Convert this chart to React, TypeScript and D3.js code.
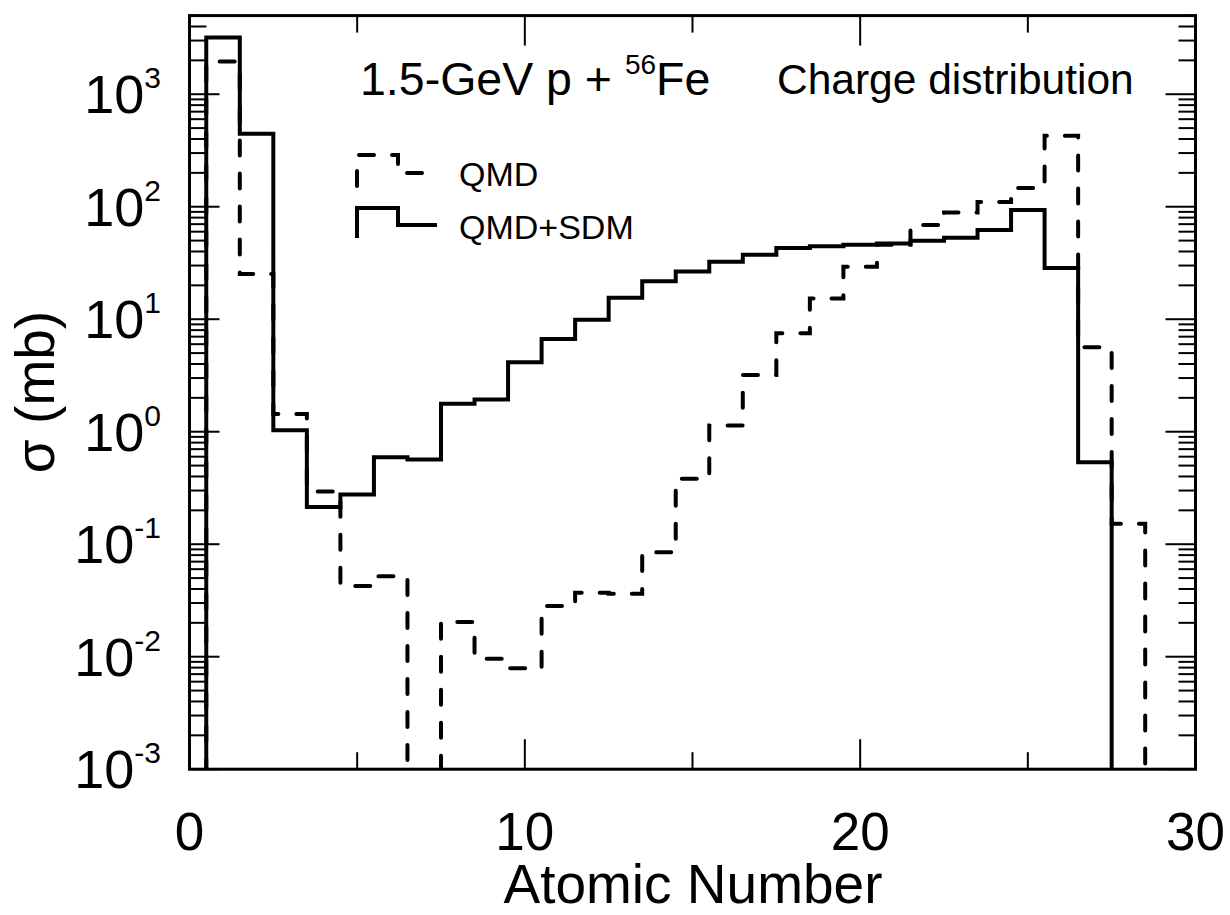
import React from "react";
import * as d3 from "d3";

// Atomic number bins (centers), edges at Z ± 0.5
const charges = [1, 2, 3, 4, 5, 6, 7, 8, 9, 10, 11, 12, 13, 14, 15, 16, 17, 18, 19, 20, 21, 22, 23, 24, 25, 26, 27, 28];
// QMD+SDM (solid), mb; 0 = below axis
const qmdSdm = [3200, 445, 1.03, 0.214, 0.276, 0.594, 0.566, 1.77, 1.93, 4.14, 6.68, 9.9, 15.5, 21.7, 26.6, 32.5, 37.5, 43, 44.5, 46, 47.2, 49.9, 53, 62, 93.6, 28.5, 0.536, 0];
// QMD (dashed), mb
const qmd = [1950, 25.2, 1.44, 0.294, 0.0425, 0.052, 0, 0.0203, 0.0096, 0.0079, 0.0282, 0.037, 0.0363, 0.085, 0.382, 1.135, 3.2, 7.5, 15.3, 29.3, 46, 68.7, 89, 110, 146.5, 427, 5.63, 0.152];

const xMajorTicks = [0, 10, 20, 30];
const xMinorTicks = [5, 15, 25];
const yDecades = [-3, -2, -1, 0, 1, 2, 3];

const W = 1230, H = 915;
const L = 189.5, R = 1195.5, T = 15.6, B = 769.2;
const FONT = "'Liberation Sans', Arial, Helvetica, sans-serif";

export default function App() {
  const x = d3.scaleLinear().domain([0, 30]).range([L, R]);
  const y = d3.scaleLog().domain([1e-3, 5e3]).range([B, T]);

  const stepPath = (vals: number[]) => {
    const pts: [number, number][] = [];
    const yv = (v: number) => (v > 0 ? y(v) : B + 5);
    pts.push([x(charges[0] - 0.5), B + 5]);
    charges.forEach((z, i) => {
      pts.push([x(z - 0.5), yv(vals[i])]);
      pts.push([x(z + 0.5), yv(vals[i])]);
    });
    pts.push([x(charges[charges.length - 1] + 0.5), B + 5]);
    return d3.line()(pts) as string;
  };

  const minorY: number[] = [];
  yDecades.forEach((d) => {
    for (let k = 2; k <= 9; k++) {
      const v = k * Math.pow(10, d);
      if (v <= 5e3) minorY.push(v);
    }
  });

  const dash = "15 18";
  const majorLen = 30, minorLen = 17;

  return (
    <svg width={W} height={H} style={{ display: "block", position: "absolute", left: 0, top: 0 }} fontFamily={FONT}>
      <rect width={W} height={H} fill="#fff" />
      <defs>
        <clipPath id="plotclip">
          <rect x={L} y={T} width={R - L} height={B - T} />
        </clipPath>
      </defs>
      {/* histograms */}
      <g clipPath="url(#plotclip)" fill="none" stroke="#000" strokeWidth={4}>
        <path d={stepPath(qmd)} strokeDasharray={dash} strokeLinecap="round" />
        <path d={stepPath(qmdSdm)} strokeLinejoin="miter" />
      </g>
      {/* ticks */}
      <g stroke="#000" strokeWidth={2}>
        {xMajorTicks.map((t) => (
          <g key={"xM" + t}>
            <line x1={x(t)} x2={x(t)} y1={B} y2={B - majorLen} />
            <line x1={x(t)} x2={x(t)} y1={T} y2={T + majorLen} />
          </g>
        ))}
        {xMinorTicks.map((t) => (
          <g key={"xm" + t}>
            <line x1={x(t)} x2={x(t)} y1={B} y2={B - minorLen} />
            <line x1={x(t)} x2={x(t)} y1={T} y2={T + minorLen} />
          </g>
        ))}
        {yDecades.map((d) => (
          <g key={"yM" + d}>
            <line x1={L} x2={L + majorLen} y1={y(Math.pow(10, d))} y2={y(Math.pow(10, d))} />
            <line x1={R} x2={R - majorLen} y1={y(Math.pow(10, d))} y2={y(Math.pow(10, d))} />
          </g>
        ))}
        {minorY.map((v, i) => (
          <g key={"ym" + i}>
            <line x1={L} x2={L + minorLen} y1={y(v)} y2={y(v)} />
            <line x1={R} x2={R - minorLen} y1={y(v)} y2={y(v)} />
          </g>
        ))}
      </g>
      {/* frame */}
      <rect x={L} y={T} width={R - L} height={B - T} fill="none" stroke="#000" strokeWidth={3} />
      {/* x tick labels */}
      {xMajorTicks.map((t) => (
        <text key={"xl" + t} x={x(t)} y={850} fontSize={53} textAnchor="middle" fill="#000">
          {t}
        </text>
      ))}
      {/* y tick labels */}
      {yDecades.map((d) => (
        <text key={"yl" + d} x={161} y={y(Math.pow(10, d)) + 19} fontSize={54} textAnchor="end" fill="#000">
          10
          <tspan fontSize={30} dy={-25}>{String(d)}</tspan>
        </text>
      ))}
      {/* axis titles */}
      <text x={693} y={903} fontSize={55} textAnchor="middle" fill="#000">
        Atomic Number
      </text>
      <text transform="translate(54,392) rotate(-90)" fontSize={55} textAnchor="middle" fill="#000">
        σ (mb)
      </text>
      {/* annotations */}
      <text x={360} y={95} fontSize={46.5} fill="#000">
        1.5-GeV p +{" "}
        <tspan fontSize={28} dy={-21}>56</tspan>
        <tspan dy={21}>Fe</tspan>
      </text>
      <text x={777} y={94} fontSize={42.5} fill="#000">
        Charge distribution
      </text>
      {/* legend */}
      <g fill="none" stroke="#000" strokeWidth={4}>
        <path d="M357,186 L357,155 L398,155 L398,173 L437,173" strokeDasharray={dash} strokeLinecap="round" />
        <path d="M357,238 L357,208 L398,208 L398,225 L437,225" />
      </g>
      <text x={459} y={186} fontSize={34} fill="#000">QMD</text>
      <text x={459} y={239} fontSize={34} fill="#000">QMD+SDM</text>
    </svg>
  );
}
